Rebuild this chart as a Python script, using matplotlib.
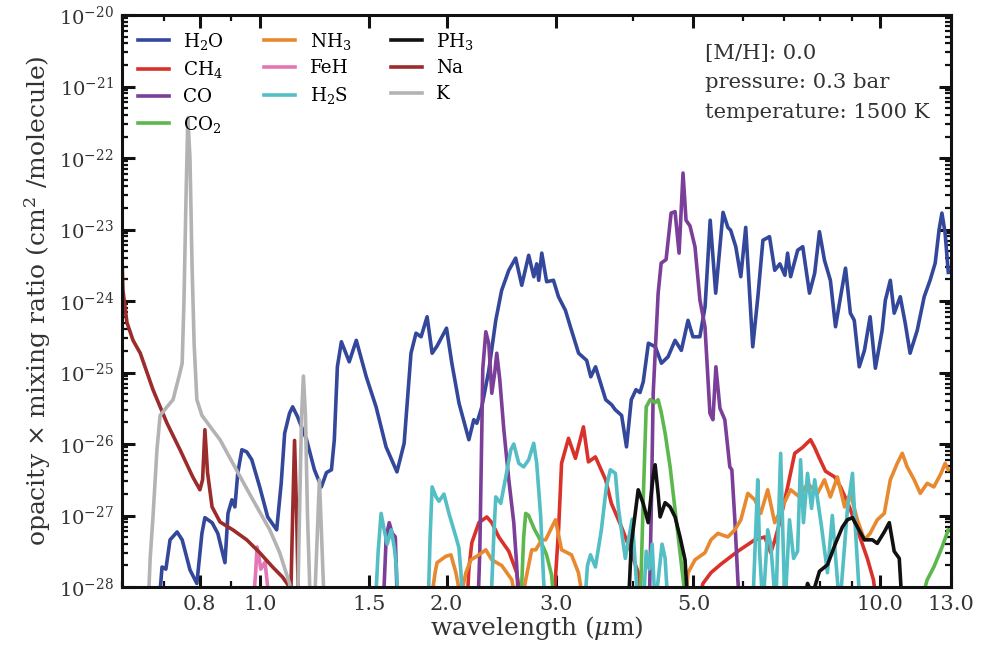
import numpy as np
import matplotlib
matplotlib.use("Agg")
import matplotlib.pyplot as plt
from matplotlib.ticker import FixedLocator, FixedFormatter, LogLocator, NullFormatter, LogFormatterSciNotation

plt.rcParams['font.family'] = 'DejaVu Serif'
plt.rcParams['mathtext.fontset'] = 'dejavuserif'

# wavelength in micron, opacity x mixing ratio given as log10 (cm^2/molecule)
h2o_wl = [0.689, 0.696, 0.706, 0.717, 0.736, 0.750, 0.772, 0.792, 0.807, 0.816, 0.838, 0.856,
          0.879, 0.889, 0.902, 0.912, 0.922, 0.936, 0.953, 0.971, 1.000, 1.030, 1.065, 1.083,
          1.097, 1.117, 1.130, 1.151, 1.190, 1.225, 1.257, 1.281, 1.305, 1.319, 1.334, 1.354,
          1.394, 1.431, 1.485, 1.540, 1.598, 1.664, 1.709, 1.753, 1.786, 1.820, 1.861, 1.896,
          1.931, 2.000, 2.040, 2.095, 2.173, 2.213, 2.238, 2.280, 2.340, 2.401, 2.454, 2.520,
          2.585, 2.644, 2.713, 2.765, 2.795, 2.816, 2.848, 2.900, 2.974, 3.030, 3.109, 3.167,
          3.265, 3.364, 3.416, 3.477, 3.61, 3.69, 3.74, 3.83, 3.90, 3.97, 4.04, 4.10, 4.15,
          4.23, 4.34, 4.44, 4.55, 4.67, 4.78, 4.90, 4.99, 5.12, 5.22, 5.32, 5.43, 5.58, 5.68,
          5.74, 5.85, 5.96, 6.07, 6.23, 6.35, 6.47, 6.63, 6.76, 6.89, 7.02, 7.09, 7.17, 7.36,
          7.50, 7.69, 7.84, 7.98, 8.13, 8.31, 8.47, 8.63, 8.79, 8.95, 9.08, 9.25, 9.43, 9.63,
          9.82, 10.07, 10.19, 10.38, 10.53, 10.77, 10.97, 11.17, 11.47, 11.77, 12.03, 12.26,
          12.44, 12.57, 12.72, 12.87]
h2o_lg = [-28.2, -27.72, -27.75, -27.34, -27.23, -27.34, -27.76, -27.95, -27.25, -27.03, -27.1, -27.25,
          -27.66, -26.97, -26.78, -26.88, -26.4, -26.08, -26.11, -26.22, -26.6, -27.02, -27.2, -26.55,
          -25.85, -25.57, -25.48, -25.62, -25.94, -26.36, -26.6, -26.4, -26.36, -25.94, -24.92, -24.57,
          -24.85, -24.55, -25.06, -25.48, -26.04, -26.39, -25.99, -24.73, -24.45, -24.5, -24.22, -24.73,
          -24.63, -24.38, -24.87, -25.43, -25.94, -25.66, -25.71, -25.48, -24.97, -24.27, -23.85, -23.57,
          -23.4, -23.78, -23.36, -23.66, -23.48, -23.71, -23.33, -23.73, -23.71, -23.94, -24.13, -24.36,
          -24.73, -24.83, -25.06, -24.92, -25.38, -25.45, -25.52, -25.6, -26.04, -25.38, -25.24, -25.28, -25.13,
          -24.59, -24.64, -24.87, -24.78, -24.55, -24.69, -24.27, -24.5, -24.5, -24.08, -22.87, -23.89, -22.76, -22.97,
          -23.01, -23.24, -23.66, -22.97, -24.64, -23.94, -23.15, -23.1, -23.57, -23.48, -23.64, -23.33, -23.66, -23.29,
          -23.24, -23.89, -23.61, -23.03, -23.43, -23.71, -24.36, -23.94, -23.54, -24.17, -24.27, -24.92, -24.69, -24.22,
          -24.94, -24.41, -23.99, -23.71, -24.17, -23.94, -24.31, -24.73, -24.41, -23.94, -23.71, -23.47,
          -23.0, -22.77, -23.05, -23.6]

ch4_wl = [2.157, 2.173, 2.197, 2.255, 2.323, 2.366, 2.428, 2.520, 2.595, 2.644,
          2.974, 3.031, 3.065, 3.145, 3.227, 3.324, 3.386, 3.475, 3.609, 3.687, 3.828, 3.970, 4.073, 4.134,
          5.048, 5.18, 5.335, 5.537, 5.895, 6.278, 6.514, 6.66, 6.76, 6.885, 7.091, 7.28, 7.49, 7.72,
          7.84, 7.98, 8.16, 8.44, 8.63, 8.92, 9.185, 9.531, 9.75, 9.89]
ch4_lg = [-28.3, -27.75, -27.38, -27.1, -27.02, -27.1, -27.3, -27.5, -27.8, -28.3,
          -28.3, -27.2, -26.27, -25.92, -26.2, -25.76, -26.25, -26.18, -26.5, -26.83, -27.16, -27.52, -27.8, -28.3,
          -28.3, -27.95, -27.8, -27.68, -27.5, -27.34, -27.3, -27.52, -27.35, -27.1, -26.6, -26.13, -26.05, -25.94,
          -26.05, -26.2, -26.38, -26.46, -26.6, -26.88, -27.2, -27.6, -27.9, -28.3]

co_wl = [1.581, 1.599, 1.617, 1.635, 1.654, 1.667,
         2.247, 2.263, 2.280, 2.288, 2.314, 2.340, 2.366, 2.392, 2.410, 2.437, 2.474, 2.520, 2.567, 2.595, 2.615,
         4.243, 4.274, 4.306, 4.386, 4.435, 4.517, 4.602, 4.670, 4.740, 4.810, 4.864, 4.936, 5.028, 5.122,
         5.218, 5.315, 5.374, 5.434, 5.516, 5.617, 5.722, 5.765, 5.830, 5.895, 5.94]
co_lg = [-28.3, -27.3, -27.1, -27.25, -27.3, -28.3,
         -28.3, -27.5, -25.8, -24.95, -24.43, -24.6, -25.29, -25.0, -24.73, -25.1, -25.8, -26.5, -27.1, -27.7, -28.3,
         -28.3, -27.0, -25.29, -23.89, -23.47, -23.42, -22.77, -22.75, -23.33, -22.21, -22.87, -22.95, -23.24, -23.99,
         -24.36, -25.57, -25.66, -24.92, -25.5, -25.66, -26.32, -26.36, -27.06, -27.9, -28.3]

co2_wl = [2.634, 2.663, 2.683, 2.713, 2.733, 2.774, 2.815, 2.867, 2.899, 2.953, 2.987,
          4.103, 4.149, 4.196, 4.258, 4.337, 4.386, 4.435, 4.501, 4.585, 4.670, 4.757, 4.828, 4.864,
          11.55, 11.90, 12.2, 12.58, 12.87]
co2_lg = [-28.3, -27.3, -26.97, -27.0, -27.07, -27.2, -27.3, -27.45, -27.55, -27.83, -28.3,
          -28.3, -26.8, -25.48, -25.38, -25.42, -25.38, -25.55, -25.85, -26.32, -26.92, -27.52, -28.0, -28.3,
          -28.3, -27.9, -27.72, -27.44, -27.2]

nh3_wl = [1.882, 1.917, 1.931, 1.995, 2.033, 2.071, 2.102, 2.125, 2.149, 2.189, 2.238, 2.314, 2.366,
          2.455, 2.549, 2.595,
          2.634, 2.683, 2.744, 2.785, 2.848, 2.889, 2.942, 2.997, 3.065, 3.180, 3.263, 3.336,
          4.846, 4.900, 5.028, 5.218, 5.335, 5.475, 5.680, 5.830, 5.961, 6.117, 6.278, 6.418, 6.586,
          6.759, 6.96, 7.17, 7.41, 7.635, 7.922, 8.13, 8.31, 8.53, 8.76, 8.95, 9.185, 9.43, 9.63,
          9.889, 10.15, 10.38, 10.65, 10.85, 11.05, 11.34, 11.6, 11.90, 12.2, 12.53, 12.72, 12.87]
nh3_lg = [-28.3, -27.8, -27.66, -27.57, -27.55, -27.8, -28.1, -28.0, -27.8, -27.62, -27.57, -27.48, -27.62,
          -27.7, -27.9, -28.3,
          -28.3, -27.9, -27.48, -27.48, -27.34, -27.34, -27.2, -27.06, -27.48, -27.55, -27.8, -28.3,
          -28.3, -27.8, -27.62, -27.52, -27.34, -27.25, -27.3, -27.2, -27.06, -26.69, -26.78, -26.97, -26.64,
          -27.1, -26.87, -26.64, -26.74, -26.55, -26.69, -26.5, -26.74, -26.46, -26.88, -26.69, -27.06, -27.34, -27.25,
          -27.06, -26.97, -26.5, -26.27, -26.13, -26.32, -26.5, -26.69, -26.55, -26.6, -26.41, -26.27, -26.36]

feh_wl = [0.975, 0.985, 0.990, 0.996, 1.004, 1.012, 1.020, 1.030, 1.040]
feh_lg = [-28.3, -27.8, -27.44, -27.55, -27.75, -27.7, -27.65, -28.0, -28.3]

h2s_wl = [1.535, 1.552, 1.569, 1.587, 1.605, 1.629, 1.648, 1.660, 1.673,
          1.868, 1.882, 1.896, 1.924, 1.945, 1.981, 2.018, 2.071, 2.094, 2.110, 2.125,
          2.357, 2.383, 2.401, 2.446, 2.492, 2.539, 2.567, 2.615, 2.663, 2.713, 2.764, 2.795, 2.836,
          2.867, 2.889,
          3.336, 3.374, 3.412, 3.475, 3.553, 3.619, 3.673, 3.742, 3.783, 3.84, 3.883, 3.926, 3.984,
          4.03, 4.073, 4.149, 4.196, 4.243, 4.29, 4.337, 4.386, 4.45, 4.501, 4.551,
          6.23, 6.30, 6.347, 6.39, 6.47, 6.586, 6.66, 6.785, 6.91, 7.02, 7.14, 7.25, 7.358, 7.44,
          7.52, 7.635, 7.75, 7.84, 8.04, 8.22, 8.37, 8.60, 8.85, 9.02, 9.12, 9.28]
h2s_lg = [-28.3, -27.5, -26.97, -27.2, -27.4, -27.2, -27.45, -27.7, -28.3,
          -28.3, -27.3, -26.6, -26.74, -26.8, -26.7, -26.97, -27.3, -27.45, -27.8, -28.3,
          -28.3, -27.3, -26.74, -26.83, -26.46, -26.08, -26.0, -26.27, -26.32, -26.22, -25.99, -26.27, -27.0,
          -27.9, -28.3,
          -28.3, -27.7, -27.55, -27.72, -27.2, -26.6, -26.36, -26.41, -26.88, -27.3, -27.6, -27.35, -27.05,
          -27.7, -28.3, -28.3, -27.5, -27.75, -27.4, -28.3, -27.9, -27.4, -27.6, -28.3,
          -28.3, -27.2, -26.5, -27.5, -28.3, -27.2, -27.4, -28.3, -26.13, -28.3, -27.06, -27.6, -27.5, -26.22,
          -27.1, -26.41, -26.9, -26.5, -27.15, -27.8, -27.0, -28.3, -26.93, -26.41, -27.2, -28.3]

ph3_wl = [3.926, 3.97, 4.073, 4.149, 4.227, 4.306, 4.337, 4.386, 4.418, 4.501, 4.585, 4.670, 4.757,
          4.846, 4.90,
          7.49, 7.635, 7.78, 7.98, 8.22, 8.47, 8.69, 8.85, 9.02, 9.185, 9.43, 9.71, 9.889, 10.15,
          10.34, 10.53, 10.73, 10.85]
ph3_lg = [-28.3, -27.4, -26.64, -26.83, -27.1, -26.45, -26.29, -26.7, -27.02, -26.82, -26.88, -27.02, -27.3,
          -27.62, -28.3,
          -28.3, -27.95, -28.1, -27.78, -27.69, -27.39, -27.16, -27.06, -27.03, -27.16, -27.34, -27.34, -27.39, -27.23,
          -27.1, -27.5, -27.6, -28.3]

na_wl = [0.600, 0.602, 0.611, 0.625, 0.642, 0.673, 0.709, 0.744, 0.780, 0.801, 0.809, 0.816, 0.824,
         0.838, 0.863, 0.905, 0.953, 1.000, 1.049, 1.088, 1.117, 1.121, 1.130, 1.138, 1.147, 1.155]
na_lg = [-23.4, -23.85, -24.3, -24.55, -24.73, -25.24, -25.71, -26.08, -26.46, -26.64, -26.5, -25.8, -26.4,
         -26.88, -27.09, -27.2, -27.34, -27.52, -27.72, -27.86, -28.0, -28.3, -27.0, -25.95, -27.0, -28.3]

k_wl = [0.661, 0.666, 0.673, 0.683, 0.691, 0.709, 0.725, 0.744, 0.750, 0.755, 0.761, 0.766, 0.772,
        0.778, 0.784, 0.792, 0.807, 0.831, 0.863, 0.929, 0.975, 1.038, 1.077, 1.117, 1.130,
        1.151, 1.159, 1.168, 1.176, 1.185, 1.194, 1.207, 1.225, 1.239, 1.248, 1.257, 1.271]
k_lg = [-28.3, -27.6, -27.02, -26.08, -25.6, -25.48, -25.38, -25.0, -24.87, -24.0, -22.5, -21.44, -22.0,
        -23.5, -24.6, -25.38, -25.6, -25.75, -25.94, -26.45, -26.78, -27.2, -27.52, -27.95, -28.3,
        -28.3, -27.0, -25.6, -25.05, -25.6, -27.0, -28.3, -28.3, -27.2, -26.5, -27.2, -28.3]

species = [
    (r'H$_2$O', h2o_wl, h2o_lg, '#33479b'),
    (r'CH$_4$', ch4_wl, ch4_lg, '#d8322b'),
    ('CO', co_wl, co_lg, '#7b3f99'),
    (r'CO$_2$', co2_wl, co2_lg, '#5cb84c'),
    (r'NH$_3$', nh3_wl, nh3_lg, '#e8892f'),
    ('FeH', feh_wl, feh_lg, '#e377b5'),
    (r'H$_2$S', h2s_wl, h2s_lg, '#53bec4'),
    (r'PH$_3$', ph3_wl, ph3_lg, '#111111'),
    ('Na', na_wl, na_lg, '#9c2b2b'),
    ('K', k_wl, k_lg, '#b3b3b3'),
]

xticks = [0.8, 1.0, 1.5, 2.0, 3.0, 5.0, 10.0, 13.0]
xticklabels = ['0.8', '1.0', '1.5', '2.0', '3.0', '5.0', '10.0', '13.0']
yticks = [1e-28, 1e-27, 1e-26, 1e-25, 1e-24, 1e-23, 1e-22, 1e-21, 1e-20]

fig = plt.figure(figsize=(9.81, 6.45), dpi=100)
ax = fig.add_axes([0.1244, 0.0899, 0.845, 0.8868])

for name, wl, lg, col in species:
    ax.plot(wl, 10.0 ** np.array(lg), color=col, lw=2.6, label=name)

ax.set_xscale('log')
ax.set_yscale('log')
ax.set_xlim(0.6, 13.0)
ax.set_ylim(1e-28, 1e-20)

ax.xaxis.set_major_locator(FixedLocator(xticks))
ax.xaxis.set_major_formatter(FixedFormatter(xticklabels))
ax.xaxis.set_minor_locator(LogLocator(base=10, subs=np.arange(2, 10), numticks=20))
ax.xaxis.set_minor_formatter(NullFormatter())
ax.yaxis.set_major_locator(FixedLocator(yticks))
ax.yaxis.set_major_formatter(LogFormatterSciNotation())
ax.yaxis.set_minor_locator(LogLocator(base=10, subs=np.arange(2, 10), numticks=12))
ax.yaxis.set_minor_formatter(NullFormatter())

ax.tick_params(which='both', direction='in', top=True, right=True, colors='#111111')
ax.tick_params(which='major', length=9, width=2.2, pad=6)
ax.tick_params(which='minor', length=4.5, width=1.6)
ax.tick_params(axis='x', which='major', labelsize=15, labelcolor='#333333')
ax.tick_params(axis='y', which='major', labelsize=14, labelcolor='#333333')
for sp in ax.spines.values():
    sp.set_linewidth(2.2)
    sp.set_color('#111111')

ax.set_xlabel(r'wavelength ($\mu$m)', fontsize=18, color='#333333', labelpad=0)
ax.set_ylabel(r'opacity $\times$ mixing ratio (cm$^2$ /molecule)', fontsize=18, color='#333333', labelpad=4)

ax.legend(loc='upper left', ncol=3, frameon=False, fontsize=13.2, handlelength=1.7,
          handletextpad=0.8, columnspacing=2.15, labelspacing=0.42, borderaxespad=0.45)

ax.text(0.703, 0.950, '[M/H]: 0.0\npressure: 0.3 bar\ntemperature: 1500 K',
        transform=ax.transAxes, ha='left', va='top', fontsize=15.2, color='#333333', linespacing=1.72)

fig.savefig('out.png', dpi=100)
